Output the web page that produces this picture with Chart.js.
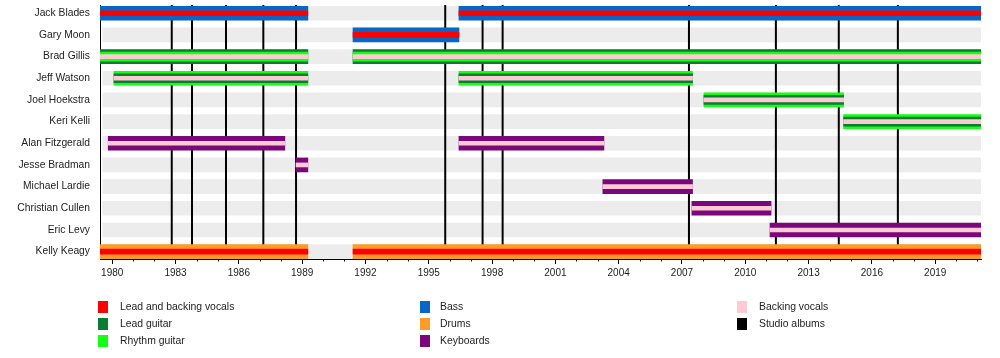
<!DOCTYPE html>
<html>
<head>
<meta charset="utf-8">
<script src="https://cdn.jsdelivr.net/npm/chart.js@4/dist/chart.umd.min.js"></script>
<style>
html, body { margin: 0; padding: 0; background: #fff; }
#wrap { position: relative; width: 1000px; height: 358px; }
.leg { position: absolute; font: 10.4px 'Liberation Sans', Arial, sans-serif; color: #222; white-space: nowrap; }
.leg i { position: absolute; width: 10px; height: 12px; }
.leg span { position: absolute; top: 0; line-height: 12px; }
</style>
</head>
<body>
<div id="wrap"><canvas id="timeline"></canvas></div>
<script>
// Période du graphique (juin 1979 -> mars 2021)
const START = 1979.42;
const END = 2021.17;

const members = [
    'Jack Blades', 'Gary Moon', 'Brad Gillis', 'Jeff Watson', 'Joel Hoekstra', 'Keri Kelli',
    'Alan Fitzgerald', 'Jesse Bradman', 'Michael Lardie', 'Christian Cullen', 'Eric Levy', 'Kelly Keagy'
];

const yearLabels = [1980, 1983, 1986, 1989, 1992, 1995, 1998, 2001, 2004, 2007, 2010, 2013, 2016, 2019];

// Albums studio (lignes noires)
const albumYears = [1982.82, 1983.78, 1985.39, 1987.16, 1988.71, 1995.78, 1997.55, 1998.50, 2007.33, 2011.45, 2014.43, 2017.23];

// Rôle principal : [membre, rôle, début, fin]
const mainSpans = [
    ['Jack Blades', 'Bass', 1979.42, 1989.27],
    ['Jack Blades', 'Bass', 1996.43, 2021.17],
    ['Gary Moon', 'Bass', 1991.41, 1996.43],
    ['Brad Gillis', 'Lead guitar', 1979.42, 1989.27],
    ['Brad Gillis', 'Lead guitar', 1991.41, 2021.17],
    ['Jeff Watson', 'Rhythm guitar', 1980.08, 1989.27],
    ['Jeff Watson', 'Rhythm guitar', 1996.43, 2007.50],
    ['Joel Hoekstra', 'Rhythm guitar', 2008.04, 2014.66],
    ['Keri Kelli', 'Rhythm guitar', 2014.66, 2021.17],
    ['Alan Fitzgerald', 'Keyboards', 1979.81, 1988.18],
    ['Alan Fitzgerald', 'Keyboards', 1996.43, 2003.30],
    ['Jesse Bradman', 'Keyboards', 1988.71, 1989.27],
    ['Michael Lardie', 'Keyboards', 2003.25, 2007.50],
    ['Christian Cullen', 'Keyboards', 2007.47, 2011.22],
    ['Eric Levy', 'Keyboards', 2011.17, 2021.17],
    ['Kelly Keagy', 'Drums', 1979.42, 1989.27],
    ['Kelly Keagy', 'Drums', 1991.41, 2021.17]
];

// Deuxième rôle (guitares)
const secondSpans = [
    ['Brad Gillis', 'Rhythm guitar', 1979.42, 1989.27],
    ['Brad Gillis', 'Rhythm guitar', 1991.41, 2021.17],
    ['Jeff Watson', 'Lead guitar', 1980.08, 1989.27],
    ['Jeff Watson', 'Lead guitar', 1996.43, 2007.50],
    ['Joel Hoekstra', 'Lead guitar', 2008.04, 2014.66],
    ['Keri Kelli', 'Lead guitar', 2014.66, 2021.17]
];

const leadVocalSpans = [
    ['Jack Blades', 'Lead vocals', 1979.42, 1989.27],
    ['Jack Blades', 'Lead vocals', 1996.43, 2021.17],
    ['Gary Moon', 'Lead vocals', 1991.41, 1996.43],
    ['Kelly Keagy', 'Lead vocals', 1979.42, 1989.27],
    ['Kelly Keagy', 'Lead vocals', 1991.41, 2021.17]
];

const backingVocalSpans = [
    ['Brad Gillis', 'Backing vocals', 1979.42, 1989.27],
    ['Brad Gillis', 'Backing vocals', 1991.41, 2021.17],
    ['Jeff Watson', 'Backing vocals', 1980.08, 1989.27],
    ['Jeff Watson', 'Backing vocals', 1996.43, 2007.50],
    ['Joel Hoekstra', 'Backing vocals', 2008.04, 2014.66],
    ['Keri Kelli', 'Backing vocals', 2014.66, 2021.17],
    ['Alan Fitzgerald', 'Backing vocals', 1979.81, 1988.18],
    ['Alan Fitzgerald', 'Backing vocals', 1996.43, 2003.30],
    ['Jesse Bradman', 'Backing vocals', 1988.71, 1989.27],
    ['Michael Lardie', 'Backing vocals', 2003.25, 2007.50],
    ['Christian Cullen', 'Backing vocals', 2007.47, 2011.22],
    ['Eric Levy', 'Backing vocals', 2011.17, 2021.17]
];

const roleColors = {
    'Lead vocals': '#ff0000',
    'Lead guitar': '#0a7d32',
    'Rhythm guitar': '#14ff14',
    'Bass': '#0866c6',
    'Drums': '#ff9b26',
    'Keyboards': '#7a087a',
    'Backing vocals': '#ffcad4',
    'Studio albums': '#000000'
};

const toPoints = spans => spans.map(([m, role, a, b]) => ({ x: [a, b], y: members.indexOf(m), role }));

const layer = (spans, thickness) => ({
    data: toPoints(spans),
    backgroundColor: ctx => roleColors[ctx.raw ? ctx.raw.role : 'Bass'],
    barThickness: thickness,
    grouped: false,
    borderWidth: 0,
    borderSkipped: false
});

// Lignes des albums au-dessus des bandes grises, sous les barres
const studioLines = {
    id: 'studioLines',
    afterDatasetDraw(chart, args) {
        if (args.index !== chart.data.datasets.length - 1) return;
        const { ctx, chartArea, scales: { x } } = chart;
        ctx.save();
        ctx.strokeStyle = '#000';
        ctx.lineWidth = 2;
        albumYears.forEach(yr => {
            const px = x.getPixelForValue(yr);
            ctx.beginPath();
            ctx.moveTo(px, chartArea.top);
            ctx.lineTo(px, chartArea.bottom);
            ctx.stroke();
        });
        ctx.restore();
    },
    afterDraw(chart) {
        // petites graduations annuelles
        const { ctx, chartArea, scales: { x } } = chart;
        ctx.save();
        ctx.strokeStyle = '#000';
        ctx.lineWidth = 1;
        for (let yr = 1980; yr <= 2021; yr++) {
            if (yearLabels.includes(yr)) continue;
            const px = Math.round(x.getPixelForValue(yr)) + 0.5;
            ctx.beginPath();
            ctx.moveTo(px, chartArea.bottom);
            ctx.lineTo(px, chartArea.bottom + 2.5);
            ctx.stroke();
        }
        ctx.restore();
    }
};

Chart.defaults.font.family = "'Liberation Sans', Arial, sans-serif";

new Chart(document.getElementById('timeline'), {
    type: 'bar',
    data: {
        datasets: [
            layer(leadVocalSpans, 5),
            layer(backingVocalSpans, 4),
            layer(secondSpans, 9),
            layer(mainSpans, 14),
            {
                data: members.map((m, i) => ({ x: [1979.55, END], y: i })),
                backgroundColor: '#ececec',
                barThickness: 14,
                grouped: false,
                borderWidth: 0
            }
        ]
    },
    options: {
        indexAxis: 'y',
        responsive: true,
        maintainAspectRatio: false,
        animation: false,
        layout: { padding: { top: 5, right: 19, left: 0, bottom: 0 } },
        plugins: { legend: { display: false }, tooltip: { enabled: false } },
        scales: {
            x: {
                type: 'linear',
                offset: false,
                min: START,
                max: END,
                afterBuildTicks: s => { s.ticks = yearLabels.map(v => ({ value: v })); },
                afterFit: s => { s.height = 99; s.paddingLeft = 0; s.paddingRight = 0; },
                grid: { drawOnChartArea: false, drawTicks: true, tickLength: 5, color: '#000', tickColor: '#000' },
                border: { display: true, color: '#000', width: 1 },
                ticks: { padding: 3, maxRotation: 0, autoSkip: false, color: '#222', font: { size: 10 }, callback: v => String(v) }
            },
            y: {
                type: 'linear',
                offset: false,
                reverse: true,
                min: -0.38,
                max: 11.34,
                afterBuildTicks: s => { s.ticks = members.map((m, i) => ({ value: i })); },
                afterFit: s => { s.width = 100; s.paddingTop = 0; s.paddingBottom = 0; },
                grid: { display: false, drawTicks: false, offset: false },
                border: { display: true, color: '#000', width: 1 },
                ticks: { padding: 10, autoSkip: false, color: '#222', font: { size: 10.3 }, callback: v => members[v] ?? '' }
            }
        }
    },
    plugins: [studioLines]
});

// Légende en 3 colonnes
const legendColumns = [
    [['Lead and backing vocals', 'Lead vocals'], ['Lead guitar', 'Lead guitar'], ['Rhythm guitar', 'Rhythm guitar']],
    [['Bass', 'Bass'], ['Drums', 'Drums'], ['Keyboards', 'Keyboards']],
    [['Backing vocals', 'Backing vocals'], ['Studio albums', 'Studio albums']]
];
const colX = [98, 420, 737];
const wrap = document.getElementById('wrap');
legendColumns.forEach((col, c) => {
    col.forEach(([label, role], r) => {
        const d = document.createElement('div');
        d.className = 'leg';
        d.style.left = colX[c] + 'px';
        d.style.top = (301 + r * 17) + 'px';
        d.innerHTML = '<i style="background:' + roleColors[role] + '"></i><span style="left:' + (c === 1 ? 20 : 22) + 'px">' + label + '</span>';
        wrap.appendChild(d);
    });
});
</script>
</body>
</html>
